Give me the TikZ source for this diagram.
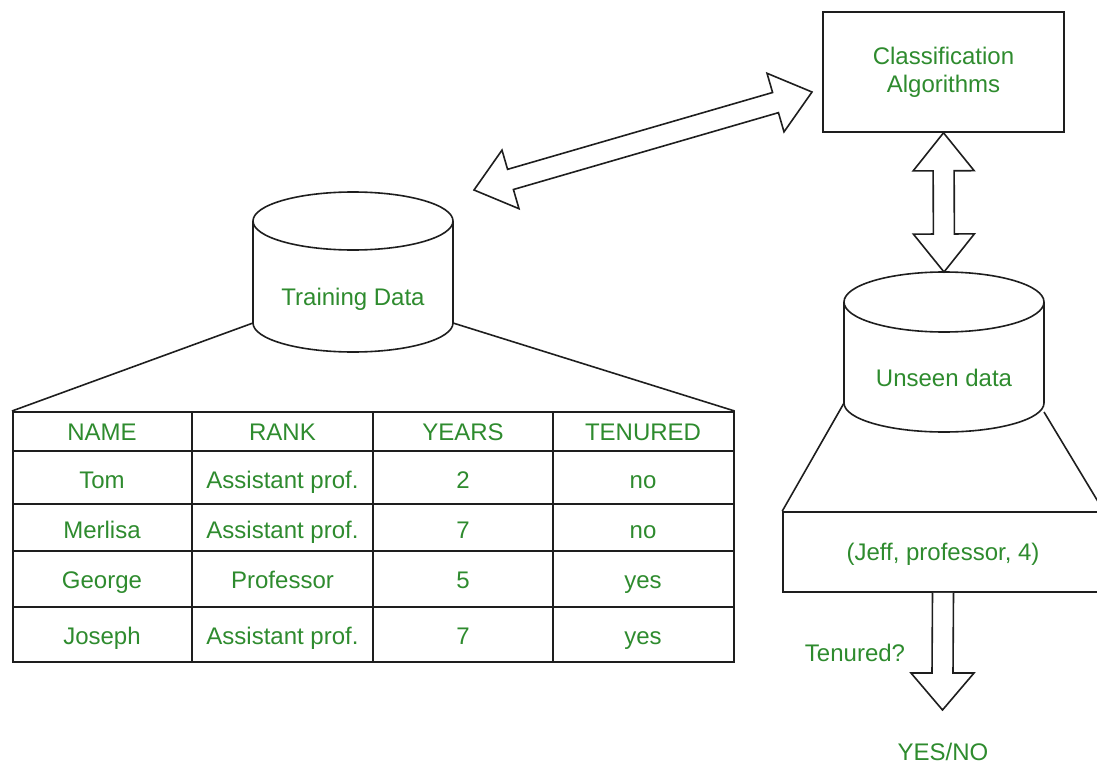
\documentclass[tikz,border=0pt]{standalone}
\usepackage{fontspec}
\setmainfont{Liberation Sans}
\usetikzlibrary{calc}
\definecolor{txtgreen}{RGB}{46,139,46}
\definecolor{linegray}{RGB}{30,30,30}
\newcommand{\dblarrow}[2]{%
  \coordinate (#1h) at ($(#1)!19pt!(#2)$);
  \coordinate (#2h) at ($(#2)!19pt!(#1)$);
  \draw[blockline] (#1) -- ($(#1h)!15.25pt!-90:(#2)$) -- ($(#1h)!5.25pt!-90:(#2)$)
    -- ($(#2h)!5.25pt!90:(#1)$) -- ($(#2h)!15.25pt!90:(#1)$) -- (#2)
    -- ($(#2h)!15.25pt!-90:(#1)$) -- ($(#2h)!5.25pt!-90:(#1)$)
    -- ($(#1h)!5.25pt!90:(#2)$) -- ($(#1h)!15.25pt!90:(#2)$) -- cycle;}
\begin{document}
\begin{tikzpicture}[x=0.5pt,y=-0.5pt,
  every node/.style={font=\fontsize{12}{14}\selectfont, text=txtgreen, inner sep=0pt},
  lbl/.style={align=center},
  txt/.style={text height=9.2pt, text depth=0.6pt},
  shapeline/.style={draw=linegray, line width=0.8pt},
  blockline/.style={draw=linegray, line width=0.8pt, line join=miter, fill=white}]
\useasboundingbox (0,0) rectangle (1097,765);
\clip (0,0) rectangle (1097,765);

% ---------- Classification box ----------
\node[shapeline, minimum width=120.5pt, minimum height=60pt, lbl] (cls) at (943.5,72) {Classification\\Algorithms};

% ---------- Training data cylinder ----------
\draw[shapeline] (253,221) -- (253,323) arc[start angle=180, end angle=0, x radius=100, y radius=29] -- (453,221);
\draw[shapeline] (353,221) ellipse[x radius=100, y radius=29];
\node[txt] (train) at (353,297) {Training Data};
\coordinate (trainL) at (253,323);
\coordinate (trainR) at (453,323);

% ---------- Table ----------
\node[shapeline, minimum width=360.5pt, minimum height=125pt, anchor=north west] (tbl) at (12,411) {};
\foreach \yy in {451,504,551,607} \draw[shapeline] (12,\yy) -- (733,\yy);
\foreach \xx in {192,373,553} \draw[shapeline] (\xx,411) -- (\xx,661);
\node[txt] (h1) at (102,432) {NAME};
\node[txt] (h2) at (282.5,432) {RANK};
\node[txt] (h3) at (463,432) {YEARS};
\node[txt] (h4) at (643,432) {TENURED};
\node[txt] (r11) at (102,480) {Tom};
\node[txt] (r12) at (282.5,480) {Assistant prof.};
\node[txt] (r13) at (463,480) {2};
\node[txt] (r14) at (643,480) {no};
\node[txt] (r21) at (102,530) {Merlisa};
\node[txt] (r22) at (282.5,530) {Assistant prof.};
\node[txt] (r23) at (463,530) {7};
\node[txt] (r24) at (643,530) {no};
\node[txt] (r31) at (102,580) {George};
\node[txt] (r32) at (282.5,580) {Professor};
\node[txt] (r33) at (463,580) {5};
\node[txt] (r34) at (643,580) {yes};
\node[txt] (r41) at (102,636) {Joseph};
\node[txt] (r42) at (282.5,636) {Assistant prof.};
\node[txt] (r43) at (463,636) {7};
\node[txt] (r44) at (643,636) {yes};

\draw[shapeline] (trainL) -- (tbl.north west);
\draw[shapeline] (trainR) -- (tbl.north east);

% ---------- Unseen data cylinder ----------
\draw[shapeline] (844,302) -- (844,403) arc[start angle=180, end angle=0, x radius=100, y radius=29] -- (1044,302);
\draw[shapeline] (944,302) ellipse[x radius=100, y radius=30];
\node[txt] (unseen) at (944,378) {Unseen data};
\coordinate (unseenTop) at (944,272);
\coordinate (unseenL) at (844,403);
\coordinate (unseenR) at (1044,412);

% ---------- Jeff box ----------
\node[shapeline, minimum width=160pt, minimum height=40pt, txt] (jeff) at (943,552) {(Jeff, professor, 4)};
\draw[shapeline] (unseenL) -- (jeff.north west);
\draw[shapeline] (unseenR) -- (jeff.north east);

% ---------- Double arrows ----------
\coordinate (dA) at (474,190);
\coordinate (dB) at (812,92);
\dblarrow{dA}{dB}
\coordinate (vA) at (cls.south);
\coordinate (vB) at (unseenTop);
\dblarrow{vA}{vB}

% ---------- Down arrow ----------
\coordinate (tip) at (942.5,710);
\draw[blockline] ($(jeff.south)+(-10.5,0)$) -- (932,673) -- (911,673) -- (tip) -- (974,673) -- (953,673) -- ($(jeff.south)+(10.5,0)$);
\node[txt] (ten) at (855,653) {Tenured?};
\node[txt] (yn) at (943,752) {YES/NO};
\end{tikzpicture}
\end{document}
